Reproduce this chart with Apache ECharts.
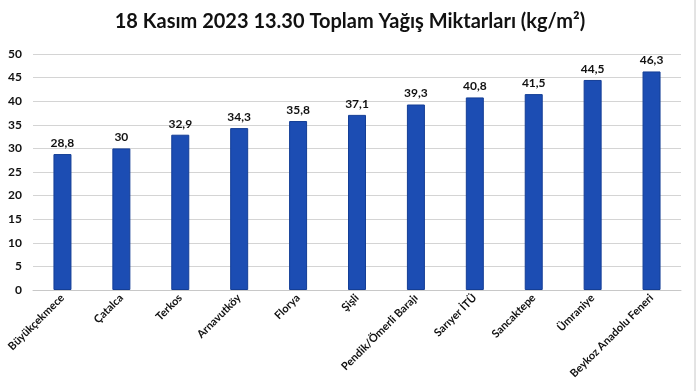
<!DOCTYPE html>
<html><head><meta charset="utf-8">
<script src="https://cdn.jsdelivr.net/npm/echarts@6/dist/echarts.min.js"></script>
<style>html,body{margin:0;padding:0;background:#fff}#c{width:700px;height:391px}</style>
</head><body><div id="c"></div>
<script>
const categories = ["Büyükçekmece","Çatalca","Terkos","Arnavutköy","Florya","Şişli","Pendik/Ömerli Barajı","Sarıyer İTÜ","Sancaktepe","Ümraniye","Beykoz Anadolu Feneri"];
const values = [28.8,30,32.9,34.3,35.8,37.1,39.3,40.8,41.5,44.5,46.3];
const yTicks = [0,5,10,15,20,25,30,35,40,45,50];
const titleText = "18 Kasım 2023 13.30 Toplam Yağış Miktarları (kg/m²)";
const font = "Lato, 'Open Sans', sans-serif";
const chart = echarts.init(document.getElementById('c'));
chart.setOption({
  animation:false,
  title:{text:titleText,left:'center',top:7,textStyle:{fontFamily:font,fontWeight:'bold',fontSize:20,color:'#111'}},
  grid:{left:33,right:19,top:54,bottom:101,containLabel:false},
  xAxis:{type:'category',data:categories,
    axisLine:{lineStyle:{color:'#c8c8c8'}},axisTick:{show:false},
    axisLabel:{rotate:45,interval:0,fontFamily:font,fontWeight:'bold',fontSize:11,color:'#111',margin:6}},
  yAxis:{type:'value',min:yTicks[0],max:yTicks[yTicks.length-1],interval:5,
    axisLine:{show:false},axisTick:{show:false},
    splitLine:{lineStyle:{color:'#d4d4d4'}},
    axisLabel:{fontFamily:font,fontWeight:'bold',fontSize:12,color:'#111',margin:11}},
  series:[{type:'bar',data:values,barWidth:18,
    itemStyle:{color:'#1c4db3',borderColor:'#143e96',borderWidth:1},
    label:{show:true,position:'top',distance:5,fontFamily:font,fontWeight:'bold',fontSize:12,color:'#111',
      formatter:p=>String(p.value).replace('.',',')}}],
  graphic:[{type:'line',shape:{x1:695,y1:0,x2:695,y2:391},style:{stroke:'#c8c8c8',lineWidth:1}}]
});
</script></body></html>
